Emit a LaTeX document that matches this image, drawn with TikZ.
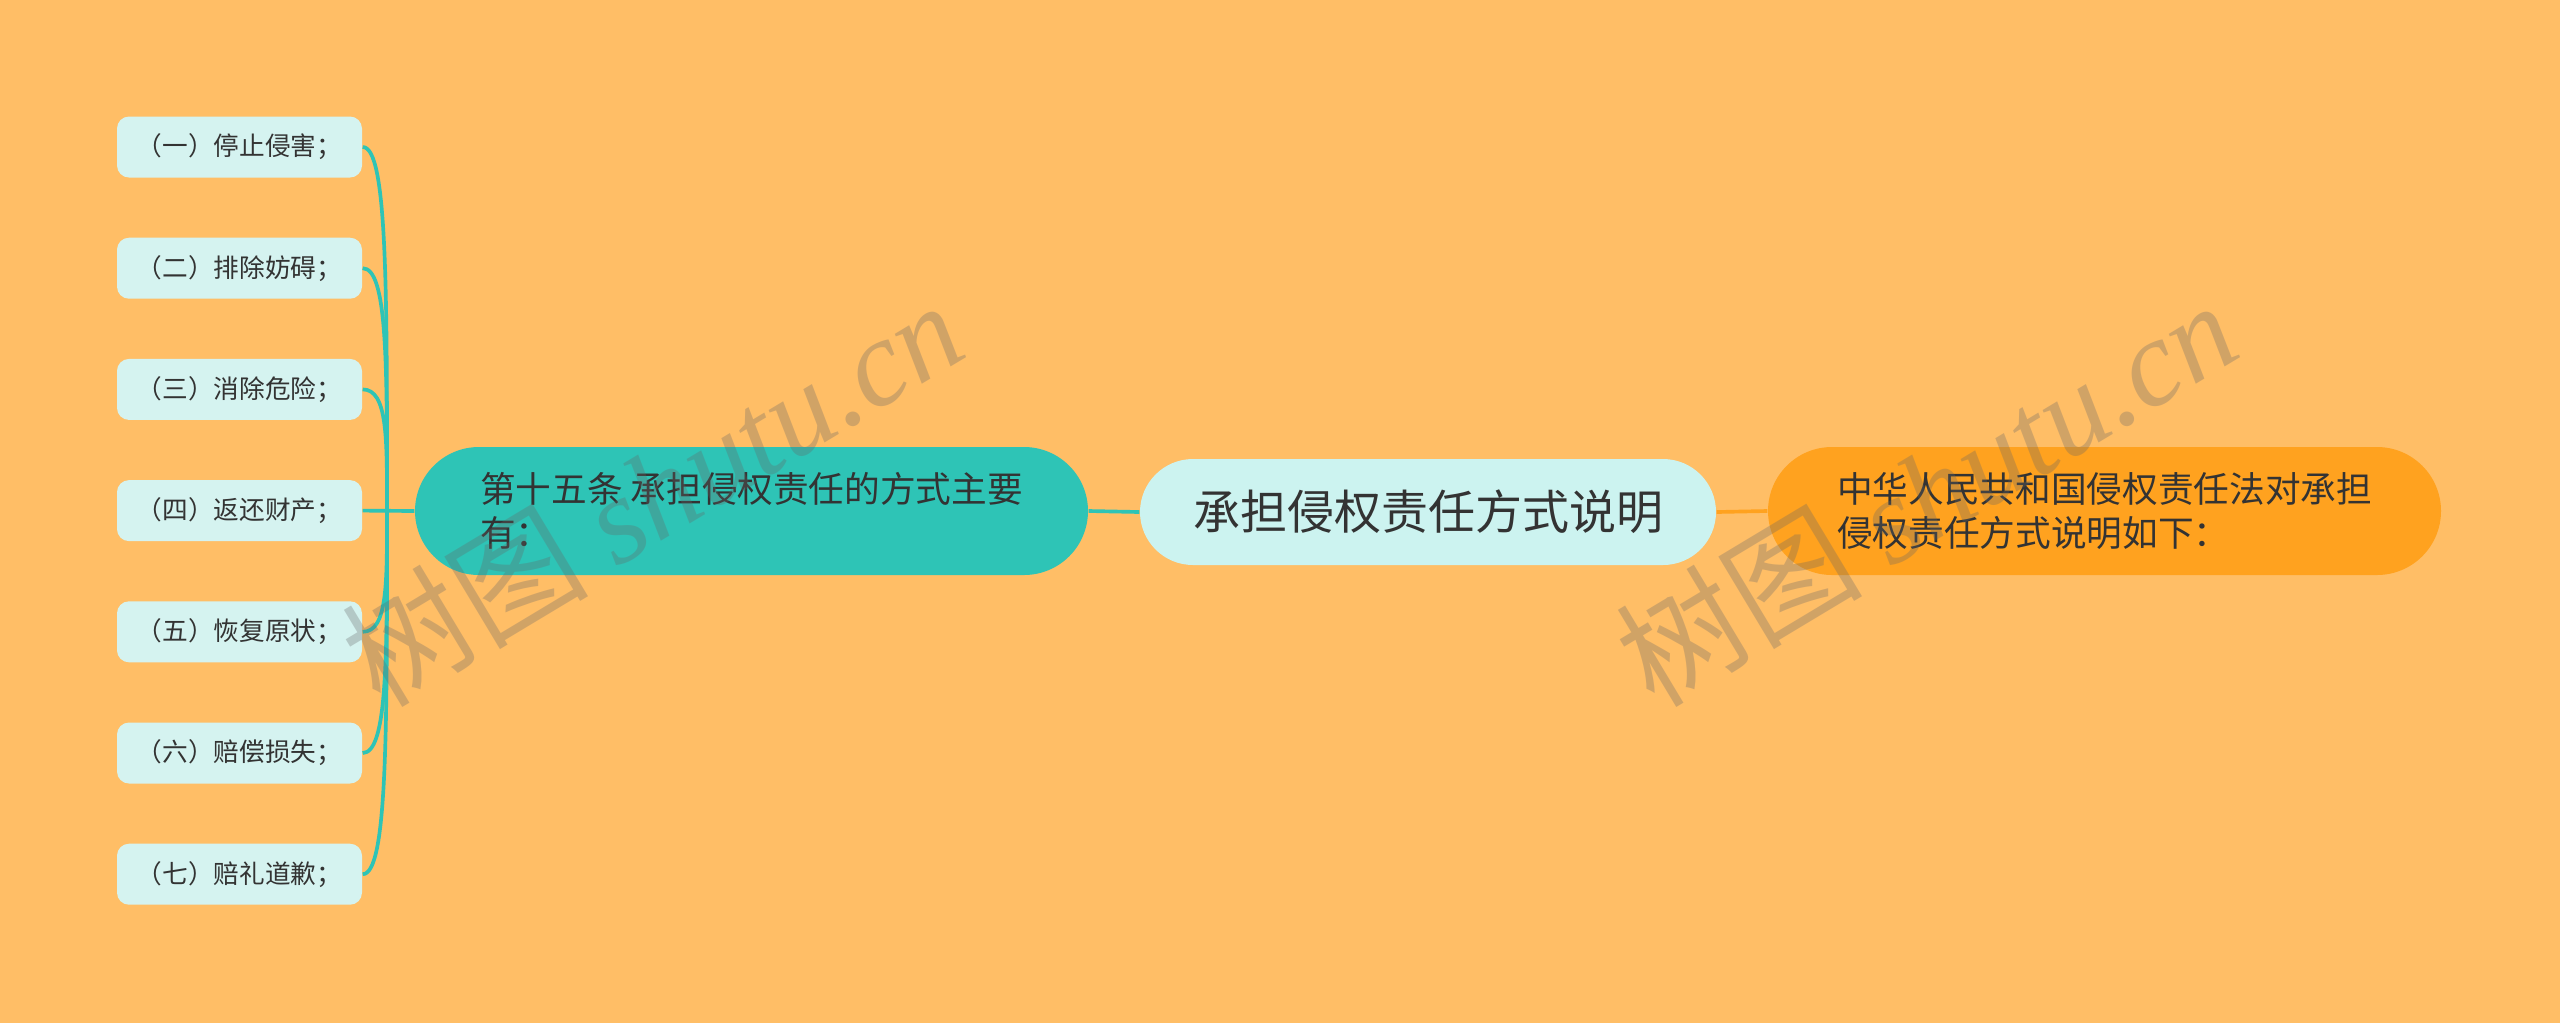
\documentclass[tikz,border=0pt]{standalone}
\usepackage{fontspec}
\setmainfont{Noto Sans CJK SC}
\newfontfamily\wmfont{Liberation Serif}
\usetikzlibrary{calc}

\definecolor{bgorange}{HTML}{FFBE66}
\definecolor{leafcyan}{HTML}{D5F3F0}
\definecolor{rootcyan}{HTML}{CCF3F0}
\definecolor{tealfill}{HTML}{2EC4B6}
\definecolor{orangefill}{HTML}{FFA21F}
\definecolor{textgray}{HTML}{333333}

\tikzset{
    leafbox/.style={fill=leafcyan, rounded corners=3.6pt, inner sep=0pt,
        minimum width=73.5pt, minimum height=18.3pt, text=textgray,
        font=\fontsize{7.7}{9}\selectfont},
    rootbox/.style={fill=rootcyan, rounded corners=15.9pt, inner sep=0pt,
        minimum width=172.8pt, minimum height=31.8pt, text=textgray,
        font=\fontsize{14.1}{16}\selectfont},
    branchbox/.style={rounded corners=19.2pt, inner sep=0pt, align=left,
        minimum width=201.9pt, minimum height=38.4pt, text=textgray,
        font=\fontsize{10.7}{13.2}\selectfont},
    tealline/.style={draw=tealfill, line width=1.1pt},
    orangeline/.style={draw=orangefill, line width=1.1pt},
    wmark/.style={text=black!60, text opacity=0.3, rotate=31,
        font=\fontsize{37}{37}\selectfont}
}

\begin{document}
\begin{tikzpicture}[x=0.3pt, y=-0.3pt]
            \fill [bgorange] (0, 0) rectangle (2560, 1023);

            \node [rootbox] (root) at (1428, 512) {承担侵权责任方式说明};
            \node [branchbox, fill=tealfill] (sec15) at (751.5, 511)
                {第十五条 承担侵权责任的方式主要\\有：};
            \node [branchbox, fill=orangefill] (law) at (2104.5, 511)
                {中华人民共和国侵权责任法对承担\\侵权责任方式说明如下：};

            \coordinate (jn) at (387, 511);

            \foreach \i/\txt in {1/（一）停止侵害；, 2/（二）排除妨碍；, 3/（三）消除危险；,
                4/（四）返还财产；, 5/（五）恢复原状；, 6/（六）赔偿损失；, 7/（七）赔礼道歉；}
                {
                    \node [leafbox] (s\i) at (239.5, {147 + 121.2*(\i-1)}) {\txt};
                }

            \foreach \i in {1, 2, 3, 5, 6, 7}
                {
                    \draw [tealline] (s\i.east) .. controls +(25, 0)
                        and ($(jn)!0.6!(jn |- s\i.east)$) .. (jn);
                }
            \draw [tealline] (s4.east) -- (sec15.west);
            \draw [tealline] (sec15.east) -- (root.west);
            \draw [orangeline] (root.east) -- (law.west);

            % watermark
            \node [wmark] (wm1) at (652, 492) {树图 {\wmfont\itshape shutu.cn}};
            \node [wmark] (wm2) at (1926, 492) {树图 {\wmfont\itshape shutu.cn}};
\end{tikzpicture}
\end{document}
